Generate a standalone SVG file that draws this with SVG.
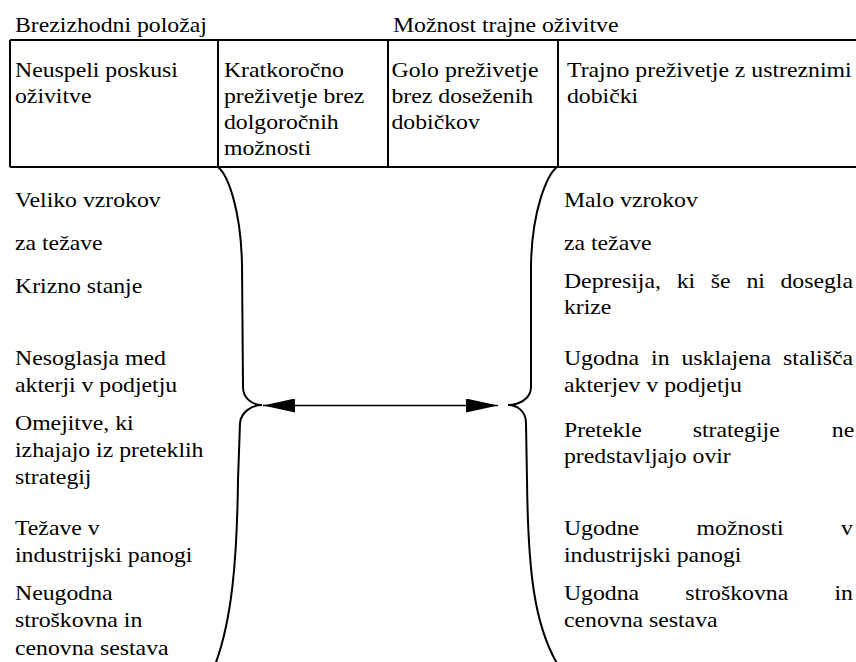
<svg xmlns="http://www.w3.org/2000/svg" width="856" height="662" viewBox="0 0 856 662">
<style>
text{font-size:22px;fill:#000}
.e{text-anchor:end}
.ln{stroke:#000;stroke-width:2;fill:none}
.br{stroke:#000;stroke-width:2;fill:none;stroke-linecap:round}
.ar{stroke:#000;stroke-width:1.6;fill:none}
</style>
<defs>
<marker id="ah" markerUnits="userSpaceOnUse" viewBox="0 0 32 14" refX="32" refY="7" markerWidth="32" markerHeight="14" orient="auto-start-reverse">
<path d="M0,0 L32,7 L0,14 z" fill="#000"/>
</marker>
</defs>
<rect width="856" height="662" fill="#fff"/>
<g id="table">
<path class="ln" d="M10,40 H856 M10,167 H856 M10,40 V167 M218,40 V167 M388,40 V167 M558,40 V167"/>
</g>
<g id="connectors">
<path class="br" d="M218,167 C228,175 241,210 242,265 L243,387 C243,398 252,405 262,405 C252,405 241,412 240,423 L238,480 C237,560 232,620 215,665"/>
<path class="br" d="M557,167 C547,175 532,210 531,265 L531,387 C531,398 520,405 508,405 C518,405 526,412 526,423 L527,480 C528,570 534,625 558,665"/>
<line class="ar" x1="263" y1="405.5" x2="498" y2="405.5" marker-start="url(#ah)" marker-end="url(#ah)"/>
</g>
<g transform="scale(1.08 1)" font-family="Liberation Serif, DejaVu Serif, serif">
<g id="h-left"><text x="13.89" y="32">Brezizhodni položaj</text></g>
<g id="h-right"><text x="363.9" y="32">Možnost trajne oživitve</text></g>
<g id="c1"><text x="13.89" y="77">Neuspeli poskusi</text><text x="13.89" y="103">oživitve</text></g>
<g id="c2"><text x="207.4" y="77">Kratkoročno</text><text x="207.4" y="103">preživetje brez</text><text x="207.4" y="129">dolgoročnih</text><text x="207.4" y="155">možnosti</text></g>
<g id="c3"><text x="362.5" y="77">Golo preživetje</text><text x="362.5" y="103">brez doseženih</text><text x="362.5" y="129">dobičkov</text></g>
<g id="c4"><text x="525" y="77">Trajno preživetje z ustreznimi</text><text x="525" y="103">dobički</text></g>
<g id="left-list">
<text x="13.89" y="207">Veliko vzrokov</text>
<text x="13.89" y="250">za težave</text>
<text x="13.89" y="293">Krizno stanje</text>
<text x="13.89" y="365">Nesoglasja med</text>
<text x="13.89" y="392">akterji v podjetju</text>
<text x="13.89" y="430">Omejitve, ki</text>
<text x="13.89" y="457">izhajajo iz preteklih</text>
<text x="13.89" y="484">strategij</text>
<text x="13.89" y="535">Težave v</text>
<text x="13.89" y="562">industrijski panogi</text>
<text x="13.89" y="600">Neugodna</text>
<text x="13.89" y="627">stroškovna in</text>
<text x="13.89" y="655">cenovna sestava</text>
</g>
<g id="right-list">
<text x="522.2" y="207">Malo vzrokov</text>
<text x="522.2" y="250">za težave</text>
<text y="288"><tspan x="522.2">Depresija,</tspan><tspan x="626.6">ki</tspan><tspan x="658.2">še</tspan><tspan x="691.1">ni</tspan></text>
<text class="e" x="789.8" y="288">dosegla</text>
<text x="522.2" y="314">krize</text>
<text y="365"><tspan x="522.2">Ugodna</tspan><tspan x="602.9">in</tspan><tspan x="631">usklajena</tspan></text>
<text class="e" x="789.8" y="365">stališča</text>
<text x="522.2" y="392">akterjev v podjetju</text>
<text y="437"><tspan x="522.2">Pretekle</tspan><tspan x="641.4">strategije</tspan></text>
<text class="e" x="791" y="437">ne</text>
<text x="522.2" y="463">predstavljajo ovir</text>
<text y="535"><tspan x="522.2">Ugodne</tspan><tspan x="645">možnosti</tspan></text>
<text class="e" x="789.8" y="535">v</text>
<text x="522.2" y="562">industrijski panogi</text>
<text y="600"><tspan x="522.2">Ugodna</tspan><tspan x="634.6">stroškovna</tspan></text>
<text class="e" x="789.8" y="600">in</text>
<text x="522.2" y="627">cenovna sestava</text>
</g>
</g>
</svg>
